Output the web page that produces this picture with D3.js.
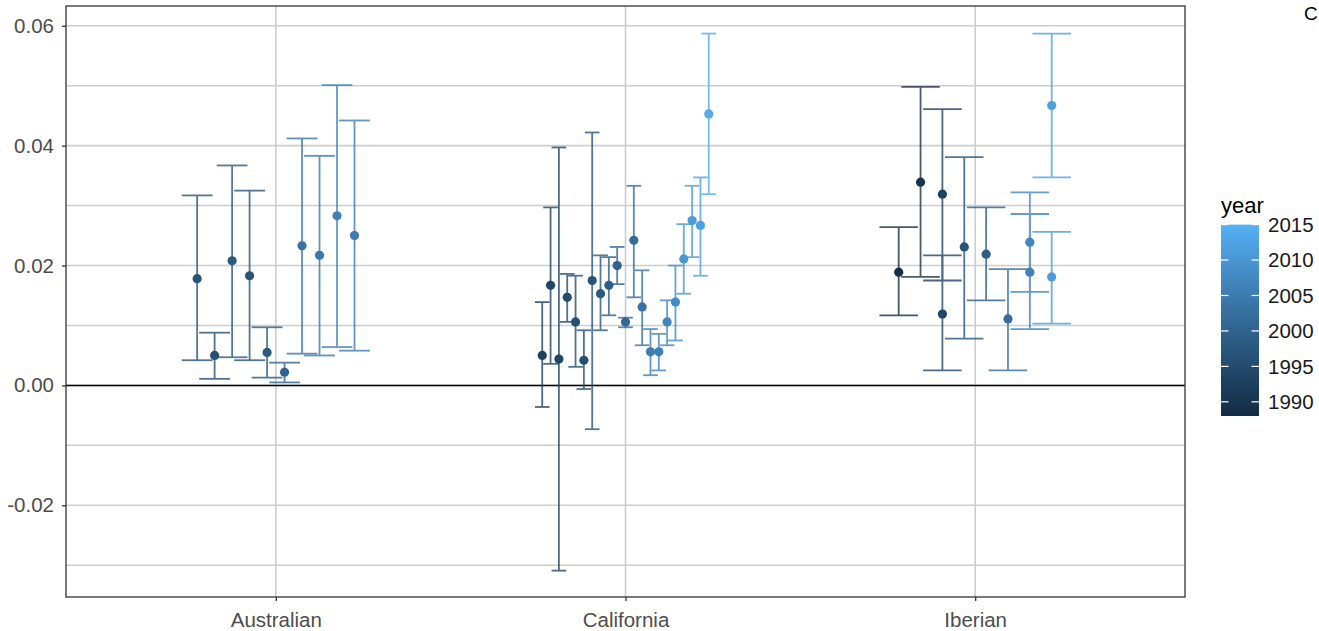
<!DOCTYPE html>
<html>
<head>
<meta charset="utf-8">
<script src="https://cdn.jsdelivr.net/npm/d3@7"></script>
<style>
  body { margin: 0; background: #fff; overflow: hidden; }
  text { font-family: "Liberation Sans", Arial, sans-serif; }
</style>
</head>
<body>
<svg id="chart" width="1319" height="631"></svg>
<script>
// categories
const regions = ["Australian", "California", "Iberian"];

// Australian
const ausYear = [1997, 1996, 1998, 1997, 1998, 2000, 2003, 2004, 2006, 2005];
const ausEst  = [0.0178, 0.0050, 0.0208, 0.0183, 0.0055, 0.0022, 0.0233, 0.0217, 0.0283, 0.0250];
const ausLow  = [0.0042, 0.0011, 0.0047, 0.0042, 0.0013, 0.0005, 0.0053, 0.0050, 0.0064, 0.0058];
const ausHigh = [0.0317, 0.0088, 0.0367, 0.0325, 0.0097, 0.0038, 0.0412, 0.0383, 0.0501, 0.0442];

// California
const calYear = [1993, 1994, 1994, 1995, 1996, 1996, 1997, 1998, 1999, 2000, 2001,
                 2002, 2003, 2005, 2006, 2007, 2008, 2010, 2011, 2012, 2014];
const calEst  = [0.0050, 0.0167, 0.0044, 0.0147, 0.0106, 0.0042, 0.0175, 0.0153, 0.0167, 0.0200, 0.0106,
                 0.0242, 0.0131, 0.0056, 0.0056, 0.0106, 0.0139, 0.0211, 0.0275, 0.0267, 0.0453];
const calLow  = [-0.0036, 0.0036, -0.0309, 0.0106, 0.0031, -0.0006, -0.0073, 0.0092, 0.0117, 0.0169, 0.0097,
                 0.0147, 0.0067, 0.0017, 0.0025, 0.0067, 0.0075, 0.0153, 0.0214, 0.0183, 0.0319];
const calHigh = [0.0139, 0.0297, 0.0397, 0.0186, 0.0183, 0.0092, 0.0422, 0.0217, 0.0214, 0.0231, 0.0113,
                 0.0333, 0.0192, 0.0094, 0.0086, 0.0142, 0.0200, 0.0269, 0.0333, 0.0347, 0.0587];

// Iberian (some years share a dodge slot)
const ibeSlot = [0, 1, 2, 2, 3, 4, 5, 6, 6, 7, 7];
const ibeYear = [1989, 1990, 1993, 1994, 1997, 1999, 2002, 2007, 2006, 2012, 2011];
const ibeEst  = [0.0189, 0.0339, 0.0319, 0.0119, 0.0231, 0.0219, 0.0111, 0.0239, 0.0189, 0.0467, 0.0181];
const ibeLow  = [0.0117, 0.0181, 0.0175, 0.0025, 0.0078, 0.0142, 0.0025, 0.0156, 0.0094, 0.0347, 0.0103];
const ibeHigh = [0.0264, 0.0498, 0.0461, 0.0217, 0.0381, 0.0297, 0.0194, 0.0322, 0.0286, 0.0587, 0.0256];

const yTicks = [-0.02, 0.00, 0.02, 0.04, 0.06];
const yMinor = [-0.03, -0.01, 0.01, 0.03, 0.05];
const legendTicks = [1990, 1995, 2000, 2005, 2010, 2015];
const yearRange = [1988, 2015];

// build rows
const rows = [];
function addRegion(name, years, est, low, high, slot) {
  const n = slot ? d3.max(slot) + 1 : years.length;
  years.forEach((yr, i) => rows.push({
    region: name, year: yr, est: est[i], low: low[i], high: high[i],
    slot: slot ? slot[i] : i, n: n
  }));
}
addRegion("Australian", ausYear, ausEst, ausLow, ausHigh);
addRegion("California", calYear, calEst, calLow, calHigh);
addRegion("Iberian", ibeYear, ibeEst, ibeLow, ibeHigh, ibeSlot);

const svg = d3.select("#chart");
const panel = { left: 66, right: 1185, top: 6, bottom: 597 };

const x = d3.scalePoint().domain(regions).range([panel.left, panel.right]).padding(0.6);
const y = d3.scaleLinear().domain([-0.0353, 0.0633]).range([panel.bottom, panel.top]);
const color = d3.scaleLinear().domain(yearRange).range(["#132B43", "#56B1F7"]).interpolate(d3.interpolateLab);

const step = x.step();
const dodge = 0.5 * step;
const capW = 0.88 * step;
const px = d => x(d.region) + (d.slot + 0.5 - d.n / 2) * (dodge / d.n);

// grid
const grid = svg.append("g");
grid.selectAll(".minor").data(yMinor).join("line")
  .attr("x1", panel.left).attr("x2", panel.right)
  .attr("y1", d => y(d)).attr("y2", d => y(d))
  .attr("stroke", "#cdcdcd").attr("stroke-width", 1.5);
grid.selectAll(".major").data(yTicks).join("line")
  .attr("x1", panel.left).attr("x2", panel.right)
  .attr("y1", d => y(d)).attr("y2", d => y(d))
  .attr("stroke", "#cdcdcd").attr("stroke-width", 1.6);
grid.selectAll(".vx").data(regions).join("line")
  .attr("x1", d => x(d)).attr("x2", d => x(d))
  .attr("y1", panel.top).attr("y2", panel.bottom)
  .attr("stroke", "#cdcdcd").attr("stroke-width", 1.6);

// zero line
svg.append("line")
  .attr("x1", panel.left).attr("x2", panel.right)
  .attr("y1", y(0)).attr("y2", y(0))
  .attr("stroke", "#000").attr("stroke-width", 1.5);

// error bars
const bars = svg.append("g").attr("stroke-width", 1.8).attr("opacity", 0.8)
  .selectAll("g").data(rows).join("g")
  .attr("stroke", d => color(d.year));
bars.append("line")
  .attr("x1", px).attr("x2", px)
  .attr("y1", d => y(d.low)).attr("y2", d => y(d.high));
bars.append("line")
  .attr("x1", d => px(d) - capW / d.n / 2).attr("x2", d => px(d) + capW / d.n / 2)
  .attr("y1", d => y(d.high)).attr("y2", d => y(d.high));
bars.append("line")
  .attr("x1", d => px(d) - capW / d.n / 2).attr("x2", d => px(d) + capW / d.n / 2)
  .attr("y1", d => y(d.low)).attr("y2", d => y(d.low));

// points
svg.append("g").selectAll("circle").data(rows).join("circle")
  .attr("cx", px).attr("cy", d => y(d.est)).attr("r", 4.6)
  .attr("fill", d => color(d.year));

// panel border
svg.append("rect")
  .attr("x", panel.left).attr("y", panel.top)
  .attr("width", panel.right - panel.left).attr("height", panel.bottom - panel.top)
  .attr("fill", "none").attr("stroke", "#333").attr("stroke-width", 1.3);

// axes
const fmt = d => d3.format(".2f")(d).replace("\u2212", "-");
const yAxis = svg.append("g").attr("transform", `translate(${panel.left},0)`)
  .call(d3.axisLeft(y).tickValues(yTicks).tickFormat(fmt).tickSize(4).tickPadding(8));
const xAxis = svg.append("g").attr("transform", `translate(0,${panel.bottom})`)
  .call(d3.axisBottom(x).tickSize(4).tickPadding(11));
[yAxis, xAxis].forEach(a => {
  a.select(".domain").remove();
  a.selectAll(".tick line").attr("stroke", "#333").attr("stroke-width", 1.3);
  a.selectAll("text").attr("fill", "#4d4d4d").attr("font-size", 20.5)
    .attr("font-family", "'Liberation Sans', Arial, sans-serif");
});

// legend
const leg = { x: 1221, w: 38 };
const ly = d3.scaleLinear().domain(yearRange).range([416, 224.6]);
const defs = svg.append("defs");
const grad = defs.append("linearGradient").attr("id", "yearGrad")
  .attr("x1", 0).attr("x2", 0).attr("y1", 1).attr("y2", 0);
d3.range(0, 1.0001, 0.1).forEach(t => {
  grad.append("stop").attr("offset", t)
    .attr("stop-color", color(yearRange[0] + t * (yearRange[1] - yearRange[0])));
});
svg.append("rect")
  .attr("x", leg.x).attr("y", ly(yearRange[1]))
  .attr("width", leg.w).attr("height", ly(yearRange[0]) - ly(yearRange[1]))
  .attr("fill", "url(#yearGrad)");
const lt = svg.append("g").selectAll("g").data(legendTicks).join("g");
lt.append("line").attr("x1", leg.x).attr("x2", leg.x + 7.5)
  .attr("y1", d => ly(d)).attr("y2", d => ly(d))
  .attr("stroke", "#fff").attr("stroke-width", 1.2);
lt.append("line").attr("x1", leg.x + leg.w - 7.5).attr("x2", leg.x + leg.w)
  .attr("y1", d => ly(d)).attr("y2", d => ly(d))
  .attr("stroke", "#fff").attr("stroke-width", 1.2);
lt.append("text").attr("x", 1268).attr("y", d => ly(d)).attr("dy", "0.35em")
  .attr("font-size", 20.5).attr("fill", "#1a1a1a").text(d => d);
svg.append("text").attr("x", 1221).attr("y", 213)
  .attr("font-size", 22).attr("fill", "#000").text("year");

// title fragment at the far right
svg.append("text").attr("x", 1304).attr("y", 20)
  .attr("font-size", 19).attr("fill", "#000").text("C");
</script>
</body>
</html>
